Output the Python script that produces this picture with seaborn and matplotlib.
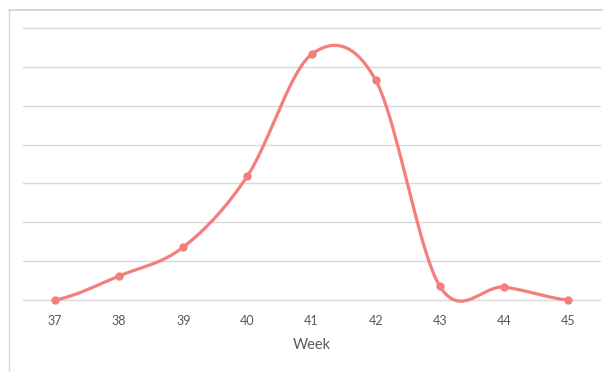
import numpy as np
import pandas as pd
import matplotlib
matplotlib.use("Agg")
import matplotlib.pyplot as plt
from matplotlib.lines import Line2D
from matplotlib import font_manager
import seaborn as sns

# Weekly counts
weeks = [37, 38, 39, 40, 41, 42, 43, 44, 45]
counts = [0.0, 6.2, 13.6, 31.9, 63.2, 56.6, 3.6, 3.3, 0.0]
week_labels = [str(w) for w in weeks]

LINE_COLOR = "#F47E7C"
GRID_COLOR = "#D9D9D9"
TEXT_COLOR = "#595959"


def smooth_curve(xs, ys, n=40):
    """Catmull-Rom spline through the points (uniform parameterisation)."""
    xs = np.asarray(xs, float)
    ys = np.asarray(ys, float)
    px = np.concatenate([[2 * xs[0] - xs[1]], xs, [2 * xs[-1] - xs[-2]]])
    py = np.concatenate([[ys[0]], ys, [ys[-1]]])
    out_x, out_y = [], []
    for i in range(1, len(px) - 2):
        t = np.linspace(0, 1, n, endpoint=(i == len(px) - 3))
        h00 = 2 * t**3 - 3 * t**2 + 1
        h10 = t**3 - 2 * t**2 + t
        h01 = -2 * t**3 + 3 * t**2
        h11 = t**3 - t**2
        mx0 = (px[i + 1] - px[i - 1]) / 2
        mx1 = (px[i + 2] - px[i]) / 2
        my0 = (py[i + 1] - py[i - 1]) / 2
        my1 = (py[i + 2] - py[i]) / 2
        out_x.append(h00 * px[i] + h10 * mx0 + h01 * px[i + 1] + h11 * mx1)
        out_y.append(h00 * py[i] + h10 * my0 + h01 * py[i + 1] + h11 * my1)
    return np.concatenate(out_x), np.concatenate(out_y)


sns.set_theme(style="white")
available = {f.name for f in font_manager.fontManager.ttflist}
label_font = "Liberation Sans Narrow" if "Liberation Sans Narrow" in available else "Lato"
plt.rcParams["font.family"] = [label_font, "DejaVu Sans"]

fig = plt.figure(figsize=(6.03, 3.72), dpi=100)
ax = fig.add_axes([23 / 603, 72 / 372, 577 / 603, 272 / 372])

sx, sy = smooth_curve(weeks, counts)
curve = pd.DataFrame({"Week": sx, "Count": sy})
points = pd.DataFrame({"Week": weeks, "Count": counts})

sns.lineplot(data=curve, x="Week", y="Count", ax=ax, color=LINE_COLOR,
             linewidth=2.3, sort=False, estimator=None, clip_on=False, zorder=3)
sns.scatterplot(data=points, x="Week", y="Count", ax=ax, color=LINE_COLOR,
                s=36, edgecolor=LINE_COLOR, linewidth=0, clip_on=False, zorder=4)

ax.set_xlim(36.5, 45.5)
ax.set_ylim(0, 70)
ax.set_yticks(np.arange(0, 71, 10))
ax.set_yticklabels([])
ax.set_xticks(weeks)
ax.set_xticklabels(week_labels, fontsize=9, color=TEXT_COLOR)
ax.tick_params(axis="x", length=0, pad=11)
ax.tick_params(axis="y", length=0)
ax.grid(axis="y", color=GRID_COLOR, linewidth=1.0)
ax.grid(axis="x", visible=False)
for gl in ax.get_ygridlines():
    gl.set_clip_on(False)
for s in ax.spines.values():
    s.set_visible(False)
ax.set_xlabel("Week", fontsize=10.5, color=TEXT_COLOR, labelpad=8)
ax.set_ylabel("")

# Outer chart frame (top and left edges)
fig.add_artist(Line2D([8.5 / 603, 1.0], [1 - 10 / 372, 1 - 10 / 372],
                      transform=fig.transFigure, color="#D0D0D0", linewidth=1.2))
fig.add_artist(Line2D([8.5 / 603, 8.5 / 603], [0.0, 1 - 10 / 372],
                      transform=fig.transFigure, color="#D9D9D9", linewidth=1.0))

fig.savefig("out.png", dpi=100)
